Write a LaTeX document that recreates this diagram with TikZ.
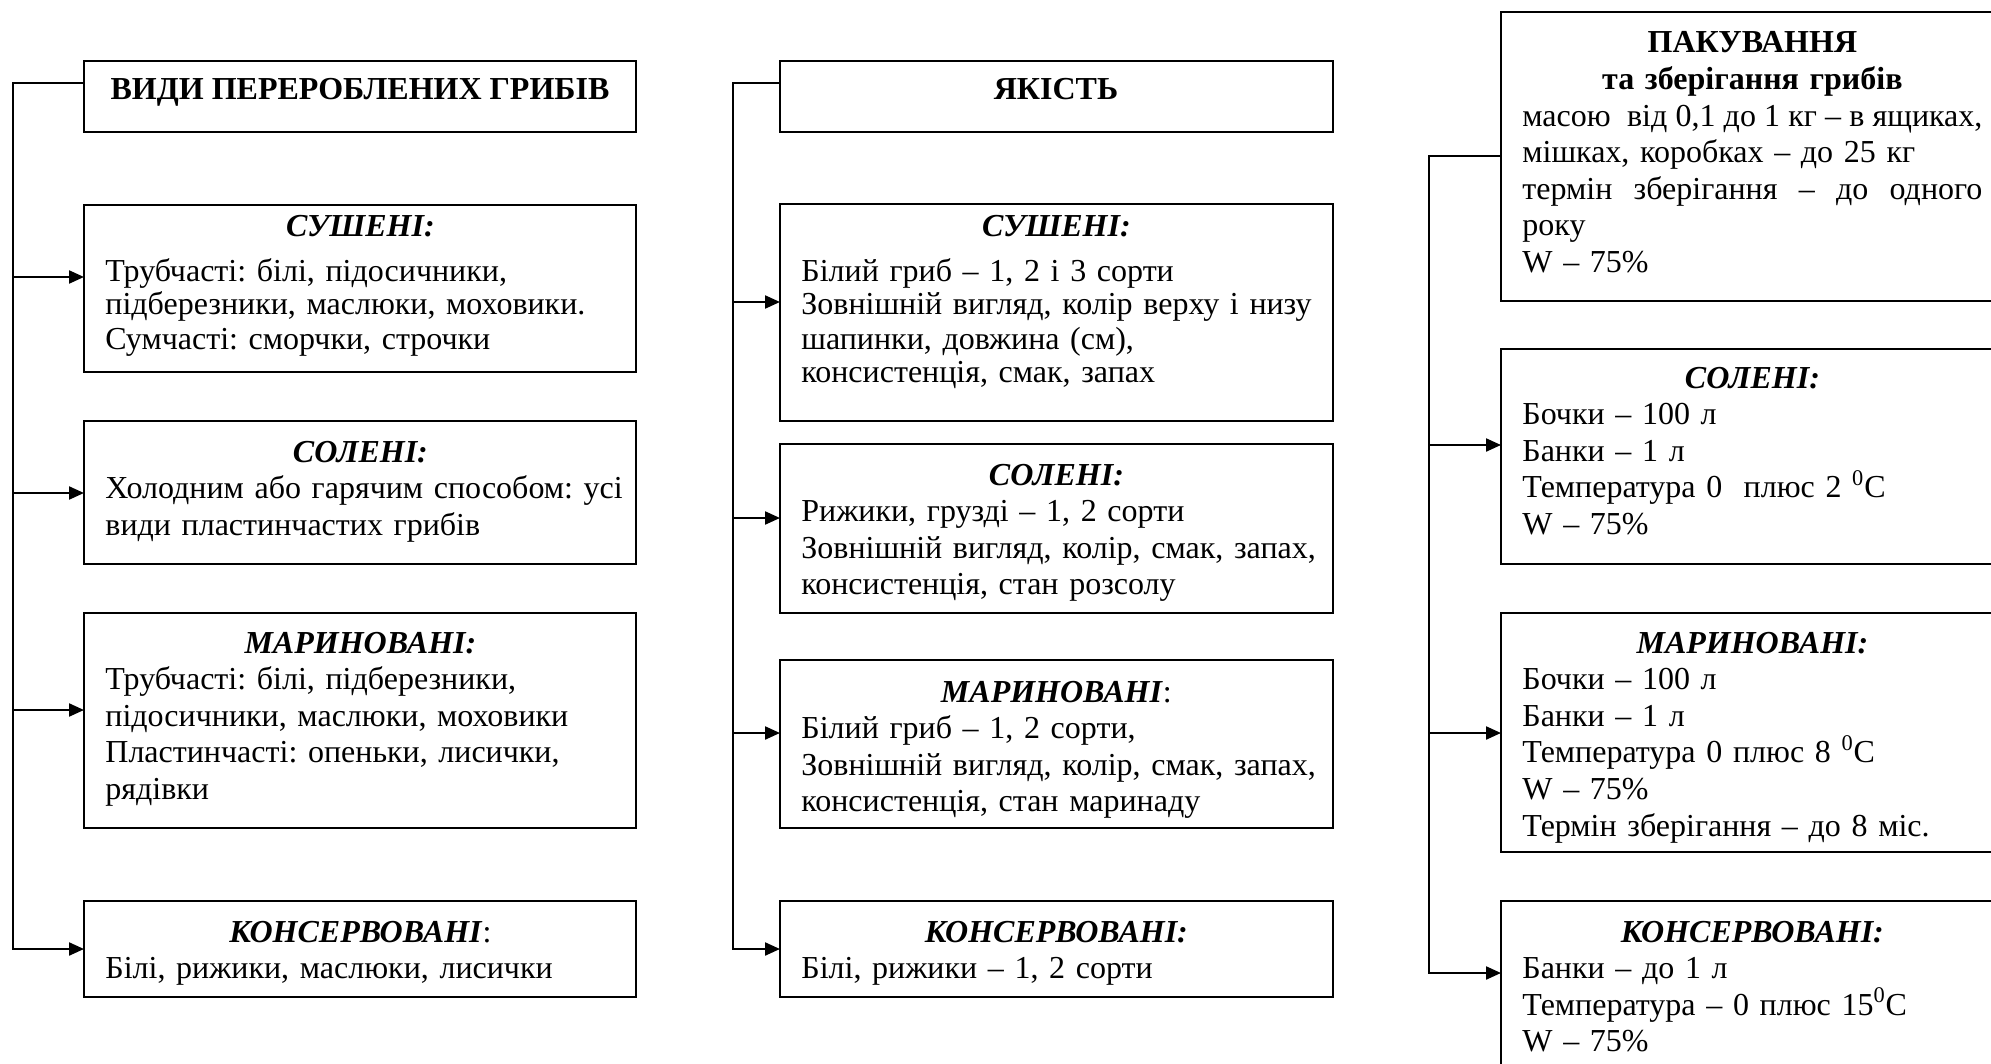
\documentclass[tikz,border=0pt]{standalone}
\usepackage{fontspec}
\setmainfont{Liberation Serif}
\usetikzlibrary{arrows.meta}

% Box with corners (x1,y1) and (x2,y2), coordinates in px, y pointing down
\newcommand\panel[5]{%
  \node[box, minimum width={(#4-#2)*0.5pt}, minimum height={(#5-#3)*0.5pt}] (#1) at (#2,#3) {};}
% centred heading lines for the two box widths
\newcommand\hd[1]{\makebox[255pt][c]{\bfseries\itshape #1}}
\newcommand\hdw[1]{\makebox[230pt][c]{\bfseries\itshape #1}}
% a justified (stretched) line in the right column
\newcommand\just[1]{{\spaceskip=0.2em plus 1em minus 0.05em\makebox[230pt][s]{#1}}}

\begin{document}
\begin{tikzpicture}[x=0.5pt,y=-0.5pt,
  box/.style={draw, line width=1pt, anchor=north west, inner sep=0pt, outer sep=0pt},
  txt/.style={anchor=base west, inner sep=0pt, text width=270pt,
              font=\fontsize{16pt}{18.3pt}\selectfont\frenchspacing},
  tight/.style={font=\fontsize{16pt}{17pt}\selectfont\frenchspacing},
  ttl/.style={anchor=base, inner sep=0pt, font=\fontsize{16pt}{18.3pt}\selectfont\bfseries},
  arr/.style={line width=1.1pt, -{Triangle[length=7.5pt,width=6.5pt]}},
]
\useasboundingbox (0,0) rectangle (1991,1064);
\clip (0,0) rectangle (1991,1064);

% ---------- column 1: kinds of processed mushrooms ----------
\panel{titleA}{84}{61}{636}{132}
\node[ttl] (titleAt) at (360,100) {ВИДИ ПЕРЕРОБЛЕНИХ ГРИБІВ};

\panel{sushA}{84}{205}{636}{372}
\node[txt, tight] (sushAt) at (105,237) {\hd{СУШЕНІ:}\\[5pt]
Трубчасті: білі, підосичники,\\
підберезники, маслюки, моховики.\\
Сумчасті: сморчки, строчки};

\panel{solA}{84}{421}{636}{564}
\node[txt] (solAt) at (105,462) {\hd{СОЛЕНІ:}\\
Холодним або гарячим способом: усі\\
види пластинчастих грибів};

\panel{marA}{84}{613}{636}{828}
\node[txt] (marAt) at (105,653) {\hd{МАРИНОВАНІ:}\\
Трубчасті: білі, підберезники,\\
підосичники, маслюки, моховики\\
Пластинчасті: опеньки, лисички,\\
рядівки};

\panel{konA}{84}{901}{636}{997}
\node[txt] (konAt) at (105,942) {\makebox[255pt][c]{\textbf{\textit{КОНСЕРВОВАНІ}}:}\\
Білі, рижики, маслюки, лисички};

% ---------- column 2: quality ----------
\panel{titleB}{780}{61}{1333}{132}
\node[ttl] (titleBt) at (1056,100) {ЯКІСТЬ};

\panel{sushB}{780}{204}{1333}{421}
\node[txt, tight] (sushBt) at (801,237) {\hd{СУШЕНІ:}\\[5pt]
Білий гриб – 1, 2 і 3 сорти\\
Зовнішній вигляд, колір верху і низу\\
шапинки, довжина (см),\\
консистенція, смак, запах};

\panel{solB}{780}{444}{1333}{613}
\node[txt] (solBt) at (801,485) {\hd{СОЛЕНІ:}\\
Рижики, грузді – 1, 2 сорти\\
Зовнішній вигляд, колір, смак, запах,\\
консистенція, стан розсолу};

\panel{marB}{780}{660}{1333}{828}
\node[txt] (marBt) at (801,702) {\makebox[255pt][c]{\textbf{\textit{МАРИНОВАНІ}}:}\\
Білий гриб – 1, 2 сорти,\\
Зовнішній вигляд, колір, смак, запах,\\
консистенція, стан маринаду};

\panel{konB}{780}{901}{1333}{997}
\node[txt] (konBt) at (801,942) {\hd{КОНСЕРВОВАНІ:}\\
Білі, рижики – 1, 2 сорти};

% ---------- column 3: packing and storage ----------
\panel{packC}{1501}{12}{2010}{301}
\node[txt] (packCt) at (1522,53) {\makebox[230pt][c]{\bfseries ПАКУВАННЯ}\\
\makebox[230pt][c]{\bfseries та зберігання грибів}\\
\just{масою\ \ від 0,1 до 1 кг – в ящиках,}\\
мішках, коробках – до 25 кг\\
\just{термін зберігання – до одного}\\
року\\
W – 75\%};

\panel{solC}{1501}{349}{2010}{564}
\node[txt] (solCt) at (1522,388) {\hdw{СОЛЕНІ:}\\
Бочки – 100 л\\
Банки – 1 л\\
Температура 0\ \ плюс 2 \textsuperscript{0}C\\
W – 75\%};

\panel{marC}{1501}{613}{2010}{852}
\node[txt] (marCt) at (1522,653) {\hdw{МАРИНОВАНІ:}\\
Бочки – 100 л\\
Банки – 1 л\\
Температура 0 плюс 8 \textsuperscript{0}C\\
W – 75\%\\
Термін зберігання – до 8 міс.};

\panel{konC}{1501}{901}{2010}{1100}
\node[txt] (konCt) at (1522,942) {\hdw{КОНСЕРВОВАНІ:}\\
Банки – до 1 л\\
Температура – 0 плюс 15\textsuperscript{0}C\\
W – 75\%};

% ---------- connectors ----------
% column 1
\coordinate (trA) at (12.6,0);
\coordinate (jA0) at (titleA.west |- 0,83);
\coordinate (jA1) at (sushA.west |- 0,277);
\coordinate (jA2) at (solA.west |- 0,493);
\coordinate (jA3) at (marA.west |- 0,710);
\coordinate (jA4) at (konA.west |- 0,949);
\draw[arr] (jA0) -| (trA |- jA4) -- (jA4);
\draw[arr] (trA |- jA1) -- (jA1);
\draw[arr] (trA |- jA2) -- (jA2);
\draw[arr] (trA |- jA3) -- (jA3);

% column 2
\coordinate (trB) at (733,0);
\coordinate (jB0) at (titleB.west |- 0,83);
\coordinate (jB1) at (sushB.west |- 0,302);
\coordinate (jB2) at (solB.west |- 0,518);
\coordinate (jB3) at (marB.west |- 0,733);
\coordinate (jB4) at (konB.west |- 0,949);
\draw[arr] (jB0) -| (trB |- jB4) -- (jB4);
\draw[arr] (trB |- jB1) -- (jB1);
\draw[arr] (trB |- jB2) -- (jB2);
\draw[arr] (trB |- jB3) -- (jB3);

% column 3
\coordinate (trC) at (1429,0);
\coordinate (jC0) at (packC.west |- 0,156);
\coordinate (jC1) at (solC.west |- 0,445);
\coordinate (jC2) at (marC.west |- 0,733);
\coordinate (jC3) at (konC.west |- 0,973);
\draw[arr] (jC0) -| (trC |- jC3) -- (jC3);
\draw[arr] (trC |- jC1) -- (jC1);
\draw[arr] (trC |- jC2) -- (jC2);
\end{tikzpicture}
\end{document}
